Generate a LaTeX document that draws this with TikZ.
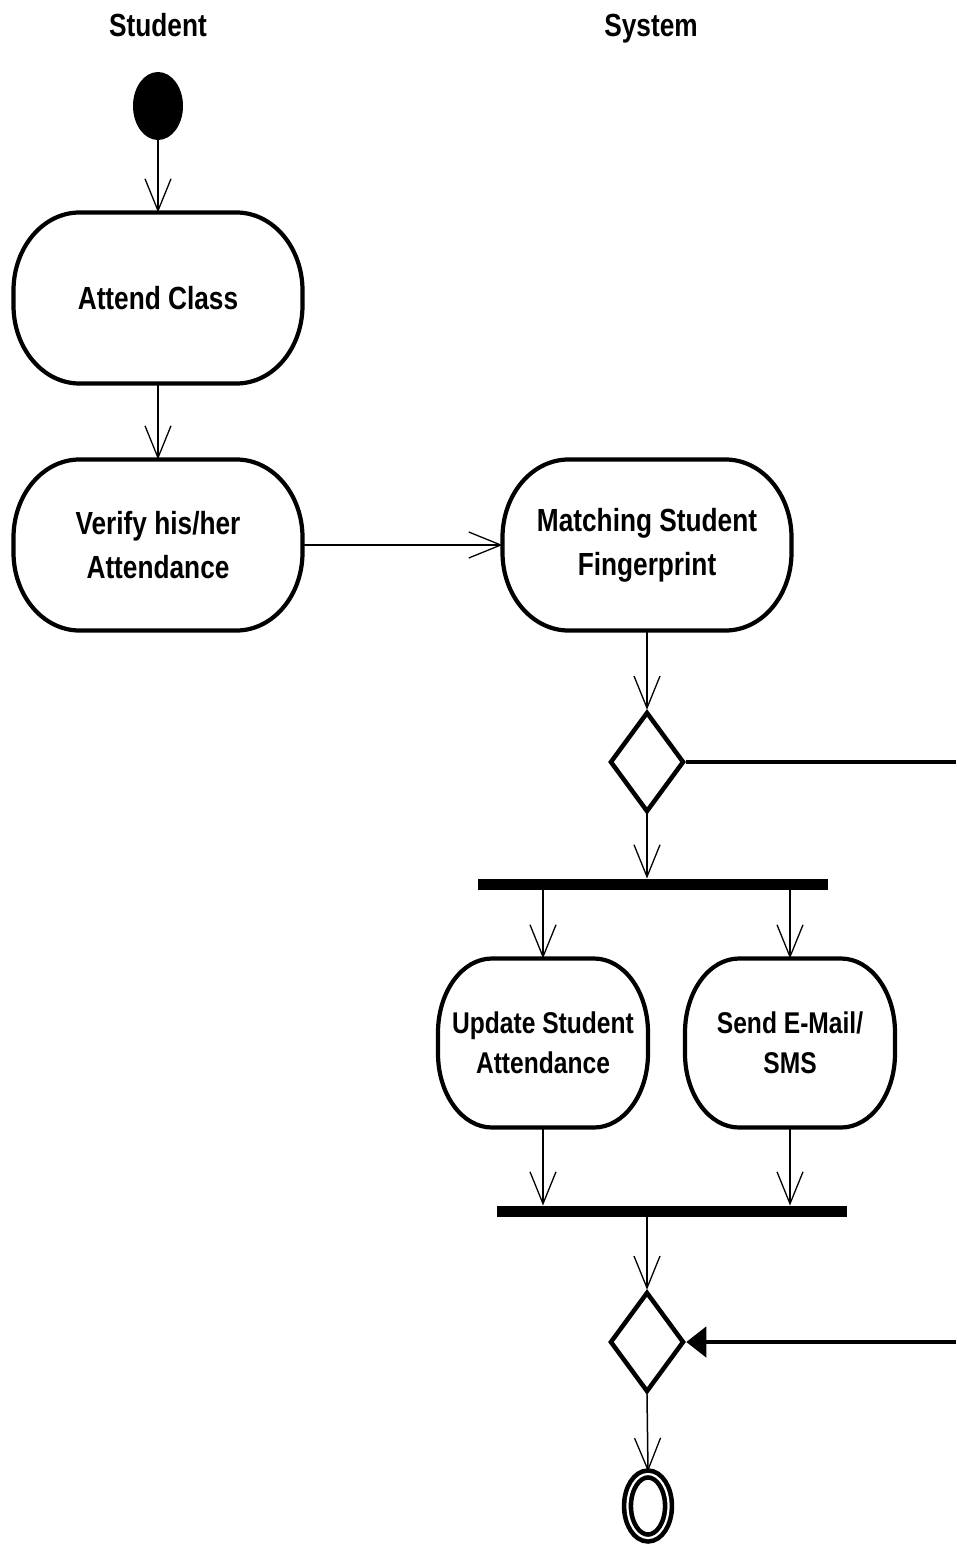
\documentclass[tikz,border=0pt]{standalone}
\usepackage{fontspec}
\setmainfont{Liberation Sans}[FakeStretch=0.82]
\usetikzlibrary{shapes.geometric,arrows.meta}

% outline of an action node: straight edges with elliptical corners
% #1 node name, #2 horizontal corner radius, #3 vertical corner radius
\newcommand\actframe[3]{%
  \draw[frame] ([xshift=#2]#1.north west) -- ([xshift=-#2]#1.north east)
    arc[start angle=90, end angle=0, x radius=#2, y radius=#3]
    -- ([yshift=#3]#1.south east)
    arc[start angle=0, end angle=-90, x radius=#2, y radius=#3]
    -- ([xshift=#2]#1.south west)
    arc[start angle=270, end angle=180, x radius=#2, y radius=#3]
    -- ([yshift=-#3]#1.north west)
    arc[start angle=180, end angle=90, x radius=#2, y radius=#3]
    -- cycle;}

\begin{document}
\begin{tikzpicture}[x=1pt,y=-1pt,
  lane/.style={font=\bfseries\fontsize{32}{40}\selectfont, anchor=base},
  activity/.style={align=center, inner sep=0pt, outer sep=0pt,
    font=\bfseries\fontsize{32}{44}\selectfont,
    minimum width=289pt, minimum height=171pt},
  smallact/.style={activity, font=\bfseries\fontsize{30}{40}\selectfont,
    minimum width=210pt, minimum height=169pt},
  frame/.style={line width=4.2pt},
  bar/.style={fill=black, inner sep=0pt, outer sep=0pt,
    minimum width=350pt, minimum height=11pt},
  choice/.style={diamond, draw, line width=4.5pt, inner sep=0pt,
    minimum width=74pt, minimum height=100pt},
  flow/.style={line width=1.5pt,
    -{Straight Barb[length=32pt,width=26pt,line width=1.3pt]}},
  guard/.style={line width=4.5pt},
  guardin/.style={line width=4.5pt, -{Triangle[length=20pt,width=30pt]}}]

\useasboundingbox (0,0) rectangle (956,1546);

% swimlane headings
\node[lane] (lstudent) at (158,37) {Student};
\node[lane] (lsystem) at (651,37) {System};

% initial node
\node[ellipse, fill=black, inner sep=0pt, minimum width=50pt, minimum height=68pt] (init) at (158,106) {};

% student activities
\node[activity] (attend) at (158,298) {Attend Class};
\node[activity] (verify) at (158,545) {Verify his/her\\Attendance};

% system activities
\node[activity] (match) at (647,545) {Matching Student\\Fingerprint};
\node[choice] (d1) at (647,762) {};
\node[bar] (fork) at (653,884) {};
\node[smallact] (upd) at (543,1043) {Update Student\\Attendance};
\node[smallact] (send) at (790,1043) {Send E-Mail/\\SMS};
\node[bar] (join) at (672,1211) {};
\node[choice] (d2) at (647,1342) {};
\node[ellipse, draw, line width=4.6pt, double=white, double distance=2.2pt,
  inner sep=0pt, minimum width=41pt, minimum height=64pt] (final) at (648,1506) {};

\actframe{attend}{66pt}{78pt}
\actframe{verify}{66pt}{78pt}
\actframe{match}{66pt}{78pt}
\actframe{upd}{54pt}{74pt}
\actframe{send}{54pt}{74pt}

\coordinate (edgeA) at (956,762);
\coordinate (edgeB) at (956,1342);

% control flows
\draw[flow] (init.south) -- (attend.north);
\draw[flow] (attend.south) -- (verify.north);
\draw[flow] (verify.east) -- (match.west);
\draw[flow] (match.south) -- (d1.north);
\draw[flow] (d1.south) -- (fork.north -| d1.south);
\draw[flow] (fork.south -| upd.north) -- (upd.north);
\draw[flow] (fork.south -| send.north) -- (send.north);
\draw[flow] (upd.south) -- (upd.south |- join.north);
\draw[flow] (send.south) -- (send.south |- join.north);
\draw[flow] (join.south -| d2.north) -- (d2.north);
\draw[flow] (d2.south) -- (final.north);

% alternative path along the right edge
\draw[guard] (d1.east) -- (edgeA);
\draw[guardin] (edgeB) -- (d2.east);

\end{tikzpicture}
\end{document}
